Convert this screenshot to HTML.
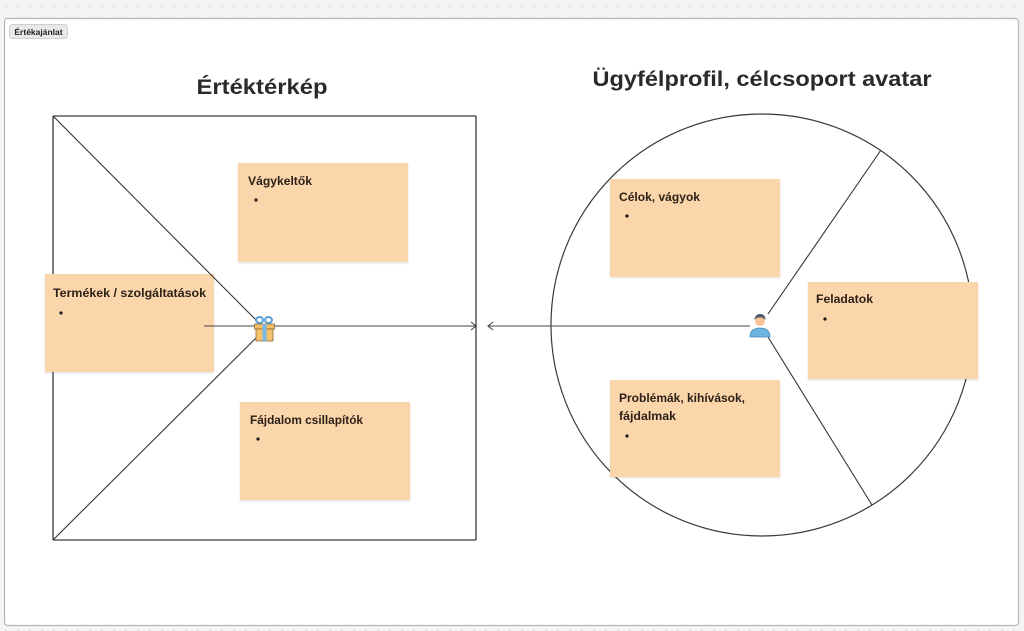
<!DOCTYPE html>
<html><head><meta charset="utf-8"><style>
html,body{margin:0;padding:0;width:1024px;height:631px;overflow:hidden;background:#f4f4f4;}
svg{display:block;}
text{font-family:"Liberation Sans",Arial,sans-serif;}
</style></head><body>
<svg width="1024" height="631" viewBox="0 0 1024 631" xmlns="http://www.w3.org/2000/svg">
<defs>
<pattern id="dots" width="12" height="12" patternUnits="userSpaceOnUse">
<rect width="12" height="12" fill="#f4f4f4"/>
<circle cx="6" cy="6" r="0.8" fill="#cfcfcf"/>
</pattern>
<filter id="sh" x="-5%" y="-5%" width="110%" height="115%">
<feDropShadow dx="0" dy="1" stdDeviation="1" flood-color="#000" flood-opacity="0.12"/>
</filter>
</defs>
<rect width="1024" height="631" fill="url(#dots)"/>
<rect x="4.5" y="18.5" width="1014" height="607" rx="3" fill="#fff" stroke="#b5b5b5" stroke-width="1.2"/>
<!-- tag -->
<rect x="9.5" y="24.5" width="58" height="14" rx="3" fill="#e9e9e9" stroke="#cfcfcf"/>
<text x="38.5" y="35" font-size="8.5" font-weight="bold" fill="#222" text-anchor="middle">Értékajánlat</text>

<!-- titles -->
<text x="262" y="94" font-size="21" font-weight="bold" fill="#2a2a2a" text-anchor="middle" textLength="131" lengthAdjust="spacingAndGlyphs">Értéktérkép</text>
<text x="762" y="86" font-size="21" font-weight="bold" fill="#2a2a2a" text-anchor="middle" textLength="339" lengthAdjust="spacingAndGlyphs">Ügyfélprofil, célcsoport avatar</text>

<!-- square -->
<rect x="53" y="116" width="423" height="424" fill="none" stroke="#3a3a3a" stroke-width="1.3" rx="1"/>

<!-- circle -->
<circle cx="762" cy="325" r="211" fill="none" stroke="#3a3a3a" stroke-width="1.2"/>

<!-- stickies left -->
<g filter="url(#sh)">
<rect x="238" y="163" width="170" height="99" fill="#fcd6ab"/>
<rect x="45" y="274" width="169" height="98" fill="#fcd6ab"/>
<rect x="240" y="402" width="170" height="98" fill="#fcd6ab"/>
<rect x="610" y="179" width="170" height="98" fill="#fcd6ab"/>
<rect x="808" y="282" width="170" height="97" fill="#fcd6ab"/>
<rect x="610" y="380" width="170" height="97" fill="#fcd6ab"/>
</g>

<!-- lines square -->
<line x1="53" y1="116" x2="257" y2="321" stroke="#333" stroke-width="1.1"/>
<line x1="53" y1="540" x2="256" y2="338" stroke="#333" stroke-width="1.1"/>
<line x1="204" y1="326" x2="476" y2="326" stroke="#444" stroke-width="1.1"/>
<path d="M471 322 L476 326 L471 330" fill="none" stroke="#444" stroke-width="1.1"/>
<!-- arrow right to left -->
<line x1="750" y1="326" x2="488" y2="326" stroke="#444" stroke-width="1.1"/>
<path d="M493 322 L488 326 L493 330" fill="none" stroke="#444" stroke-width="1.1"/>
<!-- circle lines -->
<line x1="768" y1="314" x2="881" y2="150" stroke="#333" stroke-width="1.1"/>
<line x1="768" y1="337" x2="872" y2="505" stroke="#333" stroke-width="1.1"/>

<!-- sticky texts -->
<g font-size="11.5" font-weight="bold" fill="#2b2118">
<text x="248" y="185" textLength="64" lengthAdjust="spacingAndGlyphs">Vágykeltők</text>
<text x="53" y="297" textLength="153" lengthAdjust="spacingAndGlyphs">Termékek / szolgáltatások</text>
<text x="250" y="424" textLength="113" lengthAdjust="spacingAndGlyphs">Fájdalom csillapítók</text>
<text x="619" y="201" textLength="81" lengthAdjust="spacingAndGlyphs">Célok, vágyok</text>
<text x="816" y="303" textLength="57" lengthAdjust="spacingAndGlyphs">Feladatok</text>
<text x="619" y="402" textLength="126" lengthAdjust="spacingAndGlyphs">Problémák, kihívások,</text>
<text x="619" y="420" textLength="57" lengthAdjust="spacingAndGlyphs">fájdalmak</text>
</g>
<g fill="#1a1a1a">
<circle cx="256" cy="200" r="1.6"/>
<circle cx="61" cy="313" r="1.6"/>
<circle cx="258" cy="439" r="1.6"/>
<circle cx="627" cy="216" r="1.6"/>
<circle cx="825" cy="319" r="1.6"/>
<circle cx="627" cy="436" r="1.6"/>
</g>

<!-- gift icon -->
<g>
<ellipse cx="259.5" cy="320" rx="3.5" ry="3" fill="none" stroke="#5aa0d8" stroke-width="2"/>
<ellipse cx="268.5" cy="320" rx="3.5" ry="3" fill="none" stroke="#5aa0d8" stroke-width="2"/>
<rect x="254.5" y="324" width="20" height="5" fill="#f3c26b" stroke="#8a6a3a" stroke-width="0.8"/>
<rect x="256" y="329" width="17" height="12" fill="#f3c26b" stroke="#8a6a3a" stroke-width="0.8"/>
<rect x="262.5" y="324" width="4" height="17" fill="#7ab8e8"/>
</g>

<!-- person icon -->
<g>
<path d="M750 337 Q750 328 760 328 Q770 328 770 337 Z" fill="#6fb3e0" stroke="#4a8ab8" stroke-width="0.8"/>
<circle cx="760" cy="321" r="5" fill="#f7c49a"/>
<path d="M754.5 320 Q755 314 760 314 Q765.5 314 765.5 320 Q763 317 760 317.5 Q757 317 754.5 320 Z" fill="#4b5a6a"/>
</g>
</svg>
</body></html>
